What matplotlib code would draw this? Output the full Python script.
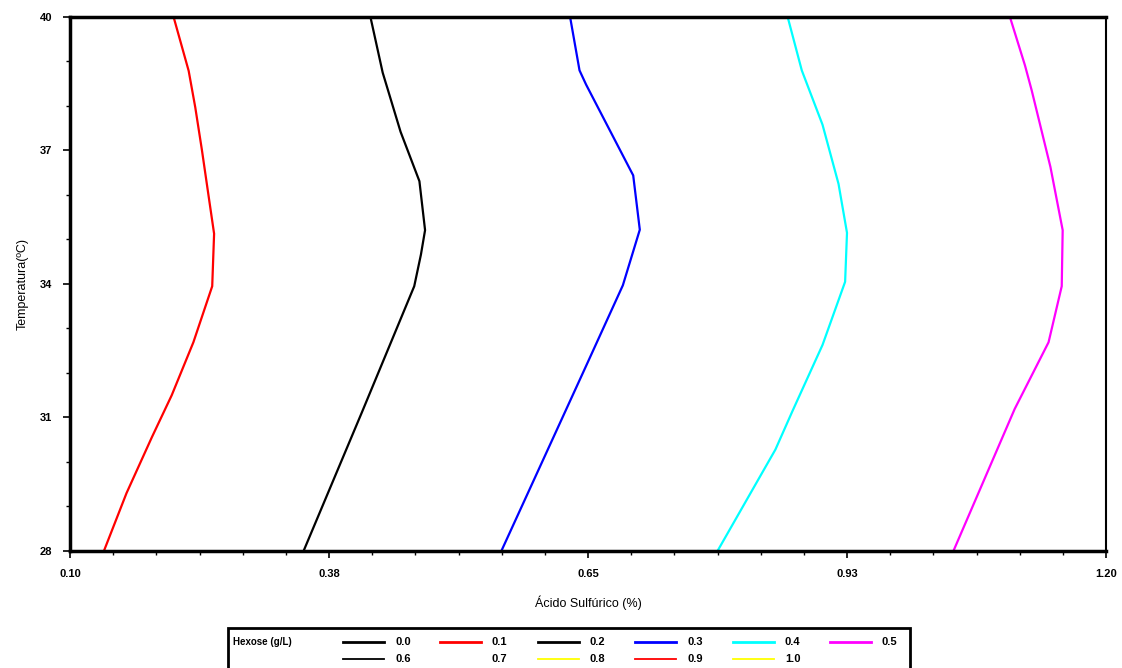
import matplotlib
matplotlib.use("Agg")
import matplotlib.pyplot as plt
from matplotlib.lines import Line2D
from matplotlib.patches import Rectangle
import numpy as np

plt.rcParams['font.family'] = ['Liberation Sans', 'DejaVu Sans']

# contour lines of Hexose (g/L): temperature (y) vs acid (x)
temp_red = [28.0, 29.3, 30.56, 31.5, 32.69, 33.95, 35.13, 36.0, 37.02, 37.97, 38.79, 40.0]
acid_red = [0.136, 0.160, 0.187, 0.208, 0.231, 0.251, 0.253, 0.247, 0.240, 0.233, 0.226, 0.210]

temp_black = [28.0, 31.12, 33.95, 34.66, 35.21, 35.76, 36.31, 37.42, 38.75, 40.0]
acid_black = [0.348, 0.410, 0.4655, 0.4726, 0.477, 0.474, 0.471, 0.451, 0.432, 0.419]

temp_blue = [28.0, 32.16, 33.97, 35.22, 36.44, 38.48, 38.8, 40.0]
acid_blue = [0.558, 0.648, 0.687, 0.705, 0.698, 0.648, 0.641, 0.631]

temp_cyan = [28.0, 30.28, 31.14, 32.63, 34.05, 35.15, 36.25, 37.58, 38.8, 40.0]
acid_cyan = [0.7875, 0.849, 0.867, 0.899, 0.923, 0.925, 0.916, 0.899, 0.877, 0.862]

temp_mag = [28.0, 31.19, 32.69, 33.95, 35.21, 36.63, 38.36, 38.91, 40.0]
acid_mag = [1.038, 1.103, 1.139, 1.153, 1.154, 1.141, 1.121, 1.114, 1.098]

x_ticks = [0.10, 0.375, 0.65, 0.925, 1.20]
x_tick_labels = ["0.10", "0.38", "0.65", "0.93", "1.20"]
y_ticks = [28, 31, 34, 37, 40]
y_tick_labels = ["28", "31", "34", "37", "40"]

legend_title = "Hexose (g/L)"
legend_labels_row1 = ["0.0", "0.1", "0.2", "0.3", "0.4", "0.5"]
legend_labels_row2 = ["0.6", "0.7", "0.8", "0.9", "1.0"]
legend_colors_row1 = ["black", "red", "black", "blue", "cyan", "magenta"]
legend_colors_row2 = ["black", None, "yellow", "red", "yellow"]

W, H = 1122, 668
fig = plt.figure(figsize=(W / 100, H / 100), dpi=100)
ax = fig.add_axes([70 / W, 1 - 551 / H, (1106 - 70) / W, (551 - 17) / H])

lw = 1.6
ax.plot(acid_red, temp_red, color="red", lw=lw)
ax.plot(acid_black, temp_black, color="black", lw=lw)
ax.plot(acid_blue, temp_blue, color="blue", lw=lw)
ax.plot(acid_cyan, temp_cyan, color="cyan", lw=lw)
ax.plot(acid_mag, temp_mag, color="magenta", lw=lw)

ax.set_xlim(0.10, 1.20)
ax.set_ylim(28, 40)
ax.set_xticks(x_ticks)
ax.set_xticklabels(x_tick_labels, fontsize=8, fontweight="bold")
ax.set_yticks(y_ticks)
ax.set_yticklabels(y_tick_labels, fontsize=8, fontweight="bold")
ax.set_xticks(np.linspace(0.10, 1.20, 25), minor=True)
ax.set_yticks(np.arange(28, 41, 1), minor=True)
ax.tick_params(which="major", direction="out", length=5, width=1.2, pad=8)
ax.tick_params(which="minor", direction="out", length=3, width=1.0)

for s in ["left", "bottom", "top"]:
    ax.spines[s].set_linewidth(2.5)
ax.spines["right"].set_linewidth(1.5)

ax.set_xlabel("Ácido Sulfúrico (%)", fontsize=9, labelpad=12)
ax.set_ylabel("Temperatura(ºC)", fontsize=9, labelpad=8)

# legend box
fig.add_artist(Rectangle((228 / W, 1 - 700 / H), (910 - 228) / W, (700 - 628) / H,
                         transform=fig.transFigure, fill=False, lw=2.0, ec="black"))
fig.text(233 / W, 1 - 642 / H, legend_title, fontsize=7, fontweight="bold",
         va="center", ha="left")
col_x = [343, 440, 538, 635, 733, 830]
for row, (labels, colors, lws) in enumerate([
        (legend_labels_row1, legend_colors_row1, 2.0),
        (legend_labels_row2, legend_colors_row2, 1.3)]):
    yy = 1 - (642 + row * 17) / H
    for i, (lab, col) in enumerate(zip(labels, colors)):
        x0 = col_x[i]
        if col is not None:
            fig.add_artist(Line2D([x0 / W, (x0 + 41) / W], [yy, yy],
                                  transform=fig.transFigure, color=col, lw=lws))
        fig.text((x0 + 52) / W, yy, lab, fontsize=8, fontweight="bold",
                 va="center", ha="left")

fig.savefig("out.png", dpi=100)
